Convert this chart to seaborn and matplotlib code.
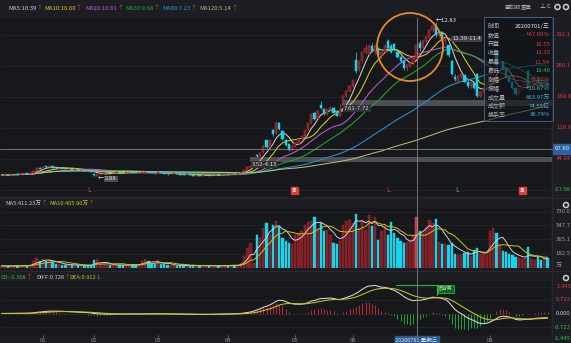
import numpy as np
import pandas as pd
import matplotlib
matplotlib.use("Agg")
import matplotlib.pyplot as plt
import seaborn as sns
from matplotlib.patches import Rectangle, Ellipse, Circle

# ---------------- data ----------------
opens = [
    2.96, 2.99, 3.00, 2.97, 3.01, 3.03, 3.00, 3.04, 3.07, 3.05, 3.09, 3.25, 3.44,
    3.38, 3.52, 3.46, 3.52, 3.45, 3.40, 3.43, 3.38, 3.34, 3.36, 3.30, 3.32, 3.28, 3.30, 3.26, 3.22,
    3.02, 2.93, 3.02, 3.05, 3.08, 3.10, 3.07, 3.12, 3.15, 3.13, 3.10, 3.14, 3.16, 3.12, 3.09, 3.11, 3.13, 3.19, 3.15, 3.12,
    3.08, 3.14, 3.12, 3.06, 3.02, 3.05, 3.08, 3.04, 3.00, 2.98, 3.02, 2.97, 2.93, 2.96, 2.92, 2.95, 2.98, 2.95, 2.97, 3.00, 2.98, 3.01,
    3.03, 3.02, 3.05, 3.03, 3.08, 3.16, 3.32, 3.45, 3.87, 4.26, 4.05, 4.45, 5.20, 4.80, 5.90, 5.65, 6.35, 5.80, 5.20, 4.95, 4.60,
    4.80, 5.00, 5.30, 5.50, 5.90, 6.30, 7.00, 6.65, 7.50, 7.20, 6.90, 7.15, 7.30, 7.10, 6.80, 7.75, 8.10, 8.40,
    8.70, 10.40, 9.80, 10.30, 10.90, 10.80, 11.30, 10.90, 11.20, 10.70, 10.90, 11.60, 11.30, 11.40, 10.90, 10.60, 10.30, 9.85, 10.00, 10.20,
    10.55, 11.50, 11.20, 11.60, 11.90, 12.30, 12.60, 12.00, 12.20, 11.60, 11.35, 10.30, 9.30, 9.00, 9.30, 9.40, 9.00, 8.70, 8.90, 9.50, 8.10, 8.30, 8.60,
    8.90, 9.40, 10.90, 10.10, 10.30, 9.80, 9.30, 9.00, 8.60, 8.20, 8.50, 8.80, 9.70, 8.70, 8.90, 9.10, 8.95, 8.80, 8.90,
]
highs = [
    3.00, 3.02, 3.01, 3.03, 3.05, 3.04, 3.06, 3.08, 3.09, 3.11, 3.30, 3.46, 3.48,
    3.55, 3.58, 3.56, 3.54, 3.47, 3.46, 3.44, 3.40, 3.39, 3.37, 3.35, 3.33, 3.32, 3.31, 3.27, 3.24,
    3.05, 3.04, 3.07, 3.10, 3.12, 3.11, 3.14, 3.17, 3.16, 3.14, 3.16, 3.18, 3.17, 3.13, 3.13, 3.15, 3.22, 3.21, 3.16, 3.13,
    3.17, 3.15, 3.13, 3.07, 3.07, 3.10, 3.09, 3.05, 3.02, 3.04, 3.03, 2.98, 2.98, 2.97, 2.97, 3.00, 2.99, 2.99, 3.02, 3.01, 3.03, 3.05,
    3.04, 3.07, 3.06, 3.10, 3.18, 3.35, 3.50, 3.52, 3.87, 4.30, 4.45, 5.00, 5.25, 5.25, 5.95, 6.45, 6.40, 5.90, 5.30, 5.00, 4.90,
    5.10, 5.35, 5.55, 5.90, 6.35, 6.95, 7.05, 7.15, 7.75, 7.25, 7.25, 7.40, 7.35, 7.15, 7.61, 8.15, 8.45, 8.75,
    9.15, 10.90, 10.35, 10.95, 11.45, 11.40, 11.50, 11.45, 11.25, 11.00, 11.40, 11.75, 11.40, 11.50, 11.00, 10.65, 10.40, 10.15, 10.30, 10.60,
    11.54, 11.70, 11.75, 12.00, 12.40, 12.70, 12.83, 12.35, 12.25, 12.00, 11.39, 10.40, 9.50, 9.40, 9.60, 9.45, 9.10, 9.00, 9.00, 9.55, 8.40, 8.65, 8.95,
    9.45, 9.95, 11.00, 10.40, 10.35, 9.90, 9.40, 9.05, 8.65, 8.55, 8.85, 9.00, 9.75, 8.95, 9.15, 9.15, 9.00, 8.95, 8.95,
]
lows = [
    2.94, 2.97, 2.95, 2.96, 3.00, 2.98, 2.99, 3.02, 3.03, 3.04, 3.08, 3.22, 3.34,
    3.36, 3.42, 3.44, 3.41, 3.37, 3.38, 3.35, 3.32, 3.32, 3.28, 3.29, 3.26, 3.26, 3.24, 3.20, 3.16,
    2.92, 2.88, 3.00, 3.03, 3.06, 3.05, 3.06, 3.10, 3.11, 3.08, 3.09, 3.12, 3.10, 3.07, 3.08, 3.10, 3.12, 3.13, 3.10, 3.06,
    3.07, 3.10, 3.04, 3.00, 3.01, 3.04, 3.02, 2.98, 2.96, 2.97, 2.95, 2.90, 2.92, 2.90, 2.91, 2.94, 2.93, 2.94, 2.96, 2.96, 2.97, 3.00,
    2.99, 3.01, 3.01, 3.02, 3.07, 3.15, 3.30, 3.40, 3.87, 4.15, 4.02, 4.40, 4.70, 4.75, 5.50, 5.60, 5.85, 5.25, 4.85, 4.55, 4.50,
    4.75, 4.95, 5.25, 5.45, 5.85, 6.25, 6.50, 6.60, 7.25, 6.85, 6.85, 7.10, 6.95, 6.75, 6.75, 7.72, 8.00, 8.30,
    8.60, 9.55, 9.70, 10.20, 10.80, 10.70, 10.90, 10.80, 10.45, 10.55, 10.85, 11.10, 10.85, 11.00, 10.50, 10.20, 9.75, 9.70, 9.95, 10.10,
    10.40, 11.00, 11.10, 11.50, 11.80, 12.20, 11.90, 11.85, 11.60, 11.45, 10.60, 9.40, 9.05, 8.90, 9.25, 8.95, 8.60, 8.60, 8.50, 8.00, 8.00, 8.25, 8.55,
    8.85, 9.35, 10.00, 10.00, 9.75, 9.25, 8.95, 8.55, 8.10, 8.15, 8.45, 8.75, 8.65, 8.65, 8.85, 8.90, 8.75, 8.75, 8.65,
]
closes = [
    2.98, 3.00, 2.97, 3.01, 3.03, 3.00, 3.04, 3.06, 3.05, 3.09, 3.25, 3.42, 3.38,
    3.50, 3.46, 3.52, 3.44, 3.40, 3.43, 3.38, 3.35, 3.36, 3.30, 3.32, 3.28, 3.30, 3.26, 3.22, 3.18,
    2.95, 3.02, 3.05, 3.08, 3.10, 3.07, 3.12, 3.15, 3.13, 3.10, 3.14, 3.16, 3.12, 3.09, 3.11, 3.13, 3.18, 3.15, 3.12, 3.08,
    3.14, 3.12, 3.06, 3.02, 3.05, 3.08, 3.04, 3.00, 2.98, 3.02, 2.97, 2.93, 2.96, 2.92, 2.95, 2.98, 2.95, 2.97, 3.00, 2.98, 3.01, 3.03,
    3.02, 3.05, 3.03, 3.08, 3.16, 3.32, 3.48, 3.52, 3.87, 4.20, 4.40, 4.85, 4.75, 5.20, 5.60, 6.30, 5.95, 5.30, 4.90, 4.60, 4.85,
    5.05, 5.30, 5.50, 5.85, 6.30, 6.90, 6.60, 7.10, 7.30, 6.90, 7.20, 7.30, 7.00, 6.80, 7.15, 8.10, 8.40, 8.70,
    9.10, 9.70, 10.30, 10.90, 11.20, 11.30, 11.00, 11.30, 10.70, 10.90, 11.30, 11.20, 10.90, 11.10, 10.60, 10.30, 9.85, 10.05, 10.20, 10.51,
    11.35, 11.20, 11.60, 11.90, 12.30, 12.60, 12.00, 12.20, 11.70, 11.80, 10.70, 9.50, 9.15, 9.35, 9.50, 9.00, 8.70, 8.95, 8.60, 8.10, 8.35, 8.60, 8.90,
    9.40, 9.90, 10.10, 10.30, 9.80, 9.30, 9.00, 8.60, 8.20, 8.50, 8.80, 8.95, 8.70, 8.90, 9.10, 8.95, 8.80, 8.90, 8.70,
]
volumes = [  # 万
    22, 18, 20, 25, 19, 21, 24, 30, 26, 35, 90, 120, 80,
    110, 85, 95, 70, 40, 45, 38, 35, 33, 30, 32, 28, 30, 26, 24, 28,
    100, 110, 45, 40, 35, 38, 30, 28, 32, 30, 35, 40, 38, 33, 35, 80, 110, 85, 45, 40,
    100, 50, 40, 35, 30, 28, 26, 30, 25, 22, 24, 28, 26, 22, 20, 25, 22, 24, 20, 22, 25, 28,
    25, 30, 28, 35, 60, 150, 260, 320, 60, 420, 380, 520, 580, 430, 560, 600, 540, 380, 350, 320, 300,
    420, 450, 480, 560, 590, 600, 660, 520, 580, 470, 490, 420, 320, 300, 350, 560, 600, 620,
    580, 700, 520, 620, 490, 690, 540, 660, 360, 480, 550, 420, 590, 450, 380, 350, 320, 330, 340, 420,
    664, 480, 450, 520, 620, 580, 630, 330, 300, 310, 290, 320, 170, 160, 180, 190, 200, 150, 230, 260, 180, 170, 160,
    480, 520, 450, 300, 220, 200, 180, 160, 140, 125, 120, 130, 270, 110, 100, 140, 100, 120, 125,
]
assert len(opens) == len(highs) == len(lows) == len(closes) == len(volumes) == 172

month_ticks = [13, 29, 49, 71, 92, 110, 153]
month_labels = ["01", "02", "03", "04", "05", "06", "08"]
ma_windows = [5, 10, 20, 30, 60, 120]
ma_colors = ["#cfcfcf", "#d2cf1e", "#c35ac8", "#26a62c", "#2596c8", "#bdb878"]
ma_header = ["MA5:10.39", "MA10:10.60", "MA20:10.61", "MA30:9.68", "MA60:7.23", "MA120:5.14"]
ma_header_x = [8, 44, 85, 125, 162, 199]
pct_levels = [332.12, 260.10, 188.08, 116.06, 44.04, -27.98]
vol_levels = [730.0, 547.7, 365.1, 182.5]
macd_levels = [1.445, 0.723, 0.0, -0.723, -1.445]
info_keys = ["时间", "数值", "开盘", "收盘", "最高", "最低", "涨幅", "振幅", "成交量", "成交额", "换手率"]
info_vals = ["20200701/三", "+67.69%", "10.55", "11.35", "11.54", "10.40", "+8.02%", "+10.87%", "663.97万", "74.55亿", "38.74%"]
cross_idx = 130
cross_pct = 67.69
gap_bands = [(107, 7.40, 7.82, "7.61-7.72"), (78, 3.83, 4.15, "3.52-4.15")]

# ---------------- styling ----------------
sns.set_theme(style="dark")
plt.rcParams["font.family"] = ["Noto Sans CJK SC", "DejaVu Sans"]
plt.rcParams["axes.unicode_minus"] = False

BG = "#1d1e23"
PBG = "#17181c"
RED = "#e0393e"
GRN = "#2fbf3a"
CYAN = "#19d4e8"
UPF = "#7c1e25"
UPE = "#c0323a"
GRAY = "#9a9ca0"
W, H = 571, 343
BASE = 2.78
PPX = 15.49          # pixels per price unit
PY0 = 221.0          # pixel y of price 0
VPX = 182.5 / 14.0   # volume units per pixel
MPX = 1.445 / 27.0   # macd units per pixel
FS = 4.3

def xi(i):
    return 1.5 + 3.193 * i

def price_y(p):
    return PY0 - PPX * p

O = np.array(opens); Hh = np.array(highs); L = np.array(lows); C = np.array(closes); V = np.array(volumes)
n = len(C)
idx = np.arange(n)
up = C >= O

fig = plt.figure(figsize=(W / 100, H / 100), dpi=100)
fig.patch.set_facecolor(BG)

def add_ax(y0, y1):
    a = fig.add_axes([0, 1 - y1 / H, 551 / W, (y1 - y0) / H])
    a.set_facecolor(PBG)
    a.set_xticks([]); a.set_yticks([])
    for s in a.spines.values():
        s.set_visible(False)
    a.set_xlim(-1.5 / 3.193, (551 - 1.5) / 3.193)
    a.grid(False)
    return a

ax_p = add_ax(18, 196)
ax_v = add_ax(208, 268)
ax_m = add_ax(281, 336)
ax_p.set_ylim((PY0 - 196) / PPX, (PY0 - 18) / PPX)
ax_v.set_ylim(-(268 - 267.5) * VPX, (267.5 - 208) * VPX)
ax_m.set_ylim(-(336 - 313.5) * MPX, (313.5 - 281) * MPX)

# ---- price panel ----
for p in pct_levels:
    ax_p.axhline(BASE * (1 + p / 100), color="#25272d", lw=0.5, zorder=0)
for start, lo, hi, _ in gap_bands:
    ax_p.fill_between([start - 0.3, n + 2], lo, hi, color="#53565c", alpha=0.9, lw=0, zorder=1)

cs = pd.Series(C)
for w, col in zip(ma_windows, ma_colors):
    ma = cs.rolling(w, min_periods=1).mean()
    sns.lineplot(x=idx, y=ma.values, ax=ax_p, color=col, linewidth=0.75, legend=False, zorder=2)

wick_cols = np.where(up, UPE, CYAN)
ax_p.vlines(idx, L, Hh, colors=wick_cols, lw=0.55, zorder=3)
body_b = np.minimum(O, C)
body_h = np.maximum(np.abs(C - O), 0.03)
ax_p.bar(idx, body_h, bottom=body_b, width=0.7,
         color=np.where(up, UPF, CYAN), edgecolor=np.where(up, UPE, CYAN),
         linewidth=0.35, zorder=4)

# ---- volume panel ----
for v in vol_levels:
    ax_v.axhline(v, color="#25272d", lw=0.5, zorder=0)
vf = np.where(up, UPF, CYAN).astype(object)
ve = np.where(up, "#a52a32", CYAN).astype(object)
vf[cross_idx] = "#b8444c"; ve[cross_idx] = "#d4545c"
ax_v.bar(idx, V, width=0.72, color=list(vf), edgecolor=list(ve), linewidth=0.3, zorder=2)
vs = pd.Series(V, dtype=float)
sns.lineplot(x=idx, y=vs.rolling(5, min_periods=1).mean().values, ax=ax_v, color="#cfcfcf", linewidth=0.7, legend=False, zorder=3)
sns.lineplot(x=idx, y=vs.rolling(10, min_periods=1).mean().values, ax=ax_v, color="#c8c41c", linewidth=0.7, legend=False, zorder=3)

# ---- MACD panel ----
ema12 = cs.ewm(span=12, adjust=False).mean()
ema26 = cs.ewm(span=26, adjust=False).mean()
dif = ema12 - ema26
dea = dif.ewm(span=9, adjust=False).mean()
hist = 2 * (dif - dea)
for v in macd_levels:
    ax_m.axhline(v, color="#25272d", lw=0.5, zorder=0)
ax_m.vlines(idx, 0, hist.values, colors=np.where(hist.values >= 0, "#b32a32", "#1f9e34"), lw=0.75, zorder=2)
sns.lineplot(x=idx, y=dif.values, ax=ax_m, color="#d8d8d8", linewidth=0.75, legend=False, zorder=3)
sns.lineplot(x=idx, y=dea.values, ax=ax_m, color="#c8c41c", linewidth=0.75, legend=False, zorder=3)
for a in (ax_p, ax_v, ax_m):
    a.set_xlabel(""); a.set_ylabel("")
    a.set_xticks([]); a.set_yticks([])

# ---------------- overlay in pixel coordinates ----------------
ov = fig.add_axes([0, 0, 1, 1], zorder=10)
ov.set_xlim(0, W); ov.set_ylim(H, 0)
ov.axis("off")
ov.patch.set_alpha(0)
renderer = fig.canvas.get_renderer()

def T(x, y, s, c, fs=FS, ha="left", **kw):
    return ov.text(x, y, s, color=c, fontsize=fs, ha=ha, va="center", **kw)

def seq(x, y, parts, fs=FS):
    for s, c in parts:
        t = T(x, y, s, c, fs)
        x += t.get_window_extent(renderer=renderer).width + 0.2
    return x

# separators
for yy in (197.5, 270.5):
    ov.plot([0, W], [yy, yy], color="#2a2c32", lw=0.6)
ov.plot([552, 552], [17, 336], color="#2a2c32", lw=0.6)

# header legend
for s, c, x0 in zip(ma_header, ma_colors, ma_header_x):
    seq(x0, 8, [(s, c), ("↑", RED)])
# toolbar top right
T(505, 7, "叠加股", "#a5a8ae", 4.0)
T(521, 7, "重置", "#a5a8ae", 4.0)
T(539, 7, "⊥", "#c8c8c8", 4.3)
T(547, 7, "C", "#c8c8c8", 4.3)
for cx in (557.5, 566):
    ov.add_patch(Circle((cx, 7), 2.6, color="#c8c8c8"))
    ov.add_patch(Circle((cx, 7), 1.0, color=BG))

# volume & macd headers
seq(5, 203.5, [("MA5:411.23万", "#c8c8c8"), ("↑", RED)], 4.1)
seq(49, 203.5, [("MA10:405.90万", "#c8c41c"), ("↑", RED)], 4.1)
seq(0.5, 277.5, [("CD:-0.368", GRN), ("↑", RED)], 4.1)
seq(36, 277.5, [("DIFF:0.728", "#d0d0d0"), ("↑", RED)], 4.1)
seq(69, 277.5, [("DEA:0.912", "#c8c41c"), ("↓", GRN)], 4.1)
for gy in (205, 278):
    ov.add_patch(Circle((566, gy), 2.6, color="#c8c8c8"))
    ov.add_patch(Circle((566, gy), 1.0, color=BG))

# right axis labels (the reference shows them clipped by the image edge)
for p in pct_levels:
    y = price_y(BASE * (1 + p / 100))
    lab = ("%.2f" % p) if p < 0 else ("%.2f" % p)[:5]
    T(553.5 if p < 0 else 556, y, lab, GRN if p < 0 else RED, 4.3)
for v in vol_levels:
    T(555.5, 267.5 - v / VPX, "%.1f" % v, GRAY, 4.3)
T(556, 265, "万", GRAY, 4.3)
for v in macd_levels:
    y = min(313.5 - v / MPX, 338)
    col = RED if v > 0 else (GRN if v < 0 else "#c8c8c8")
    T(553.5 if v < 0 else 556, y, "%.3f" % v, col, 4.3)

# crosshair
cy = price_y(BASE * (1 + cross_pct / 100))
cx = xi(cross_idx)
ov.plot([0, 552], [cy, cy], color="#8c8c8c", lw=0.55)
ov.plot([cx, cx], [18, 336], color="#8c8c8c", lw=0.55)
ov.add_patch(Rectangle((553, cy - 5), 20, 10, color="#2f62a0"))
T(554.5, cy, "%.2f" % cross_pct, "#e8eef6", 4.3)
ov.add_patch(Rectangle((cx - 22, 336), 44, 8, color="#2c5b8e"))
T(cx, 340, "20200701 星期三", "#dfe6ee", 4.0, ha="center")

# x axis month labels
for i, lab in zip(month_ticks, month_labels):
    ov.plot([xi(i), xi(i)], [335, 337], color="#777a80", lw=0.5)
    T(xi(i), 340.5, lab, "#8d9096", 4.3, ha="center")

# annotations on price panel
T(98, 179, "←", "#d8d8d8", 4.3)
T(105, 179, "2.88", "#e0e0e0", 4.3, bbox=dict(boxstyle="square,pad=0.15", fc="#4a4d53", ec="none"))
for start, lo, hi, lab in gap_bands:
    T(xi(start) + 1, price_y(lo) + 2.5, lab, "#d8d8d8", 4.3,
      bbox=dict(boxstyle="square,pad=0.15", fc="#2f3136", ec="none"))
T(452, 39, "11.39-11.4", "#e0e0e0", 4.3, bbox=dict(boxstyle="square,pad=0.15", fc="#3c3f45", ec="none"))
T(436, 21, "←12.83", "#e6e6e6", 4.3)
ov.add_patch(Ellipse((410, 47), 66, 68, fill=False, ec="#e8892e", lw=1.3))

# event markers
T(89, 190, "L", RED, 5.0, ha="center")
T(388, 190, "L", RED, 5.0, ha="center")
T(457, 190, "L", "#3aa0e0", 5.0, ha="center")
for mx in (294, 522):
    ov.add_patch(Rectangle((mx - 3.5, 186.5), 7, 7, color="#e0393e"))
    T(mx, 190, "高", "#ffffff", 3.3, ha="center")

# MACD divergence bracket
ov.plot([396, 437, 437], [285, 285, 295], color="#22b83a", lw=0.8)
ov.add_patch(Rectangle((437.5, 284.5), 16, 8, fc="#155e22", ec="#22b83a", lw=0.6))
T(445.5, 288.5, "顶背离", "#9cf0a8", 3.5, ha="center")

# info box
ov.add_patch(Rectangle((484, 17), 69, 104, fc="#10141a", ec="#3d6088", lw=0.7, alpha=0.62))
ov.add_patch(Rectangle((484, 17), 69, 104, fill=False, ec="#3d6088", lw=0.7))
row_y = [26, 35, 44, 53, 62, 71, 79.5, 88, 97, 106, 115]
val_cols = ["#e6e6e6", RED, RED, RED, RED, GRN, RED, "#2cc7d6", "#2cc7d6", "#2cc7d6", "#2cc7d6"]
for k, v, y, c in zip(info_keys, info_vals, row_y, val_cols):
    T(488, y, k, "#b0b3b8", 4.3)
    T(550, y, v, c, 4.3, ha="right")

fig.savefig("out.png", dpi=100, facecolor=BG)
